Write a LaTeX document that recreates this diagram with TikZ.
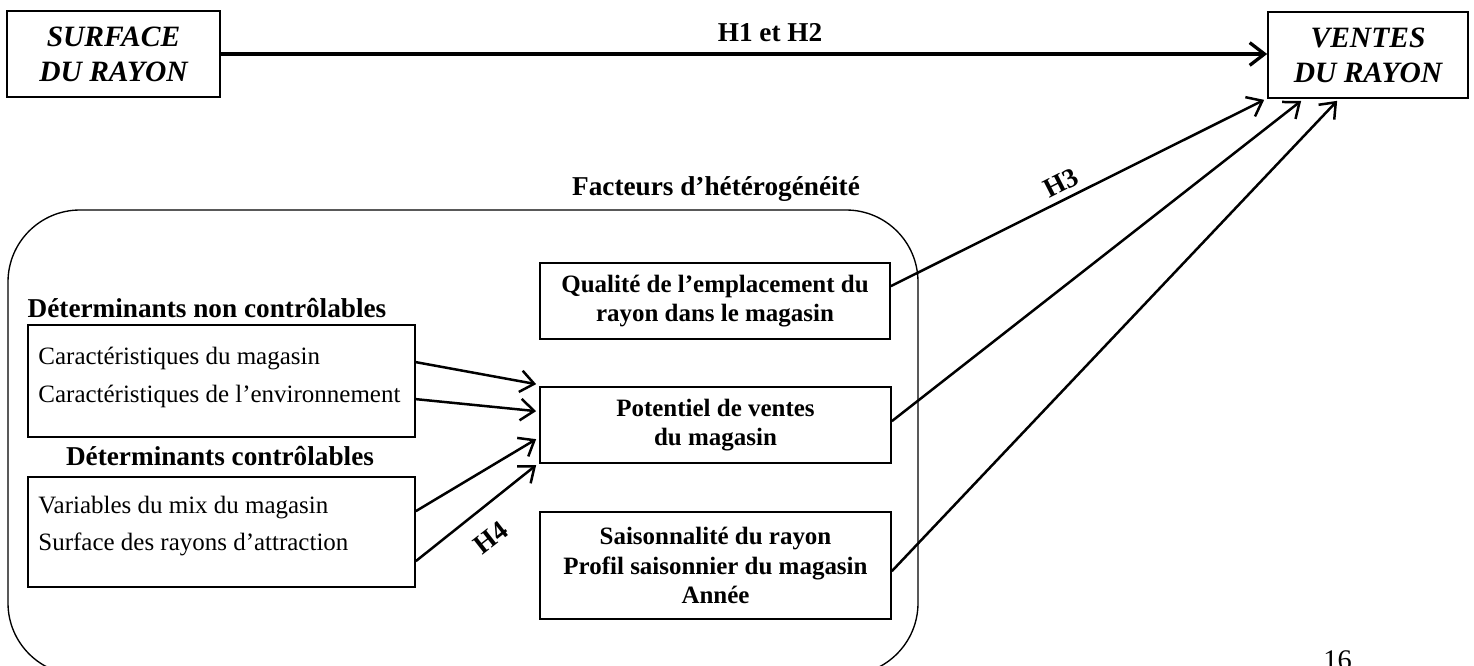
\documentclass[tikz,border=0pt]{standalone}
\usepackage{fontspec}
\setmainfont{Liberation Serif}
\usetikzlibrary{arrows.meta,calc}
\begin{document}
\begin{tikzpicture}[x=0.4405pt,y=-0.4405pt,
  box/.style={draw,line width=0.75pt,inner sep=0pt,align=center},
  bf/.style={font=\fontsize{12pt}{13.2pt}\selectfont\bfseries},
  bfbox/.style={font=\fontsize{11pt}{13pt}\selectfont\bfseries},
  rm/.style={font=\fontsize{11pt}{13pt}\selectfont},
  lbl/.style={inner sep=0pt},
  link/.style={line width=1.1pt,-{Straight Barb[length=6pt,width=9.5pt]}},
  mainlink/.style={line width=1.45pt,-{Straight Barb[length=6.5pt,width=10pt]}},
]
\useasboundingbox (0,0) rectangle (1474,666);
\clip (0,0) rectangle (1474,666);

% group of heterogeneity factors
\node[draw,line width=0.6pt,rounded corners=31.7pt,inner sep=0pt,
      minimum width=400.86pt,minimum height=204.83pt] (grp) at (463,442.5) {};

% top-level boxes
\node[box,minimum width=93.83pt,minimum height=37.88pt,
      font=\fontsize{13pt}{15.4pt}\selectfont\bfseries\itshape] (surf) at (113.5,54) {SURFACE\\DU RAYON};
\node[box,minimum width=88.1pt,minimum height=37.88pt,
      font=\fontsize{13pt}{15.4pt}\selectfont\bfseries\itshape] (vent) at (1368,55) {VENTES\\DU RAYON};

% factor boxes
\node[box,bfbox,minimum width=154.18pt,minimum height=33.48pt] (qual) at (715,301)
  {Qualité de l’emplacement du\\rayon dans le magasin};
\node[box,bfbox,minimum width=154.62pt,minimum height=33.48pt] (pot) at (715.5,425)
  {Potentiel de ventes\\du magasin};
\node[box,bfbox,minimum width=154.62pt,minimum height=47.13pt] (sais) at (715.5,565.5)
  {Saisonnalité du rayon\\Profil saisonnier du magasin\\Année};

% determinant boxes
\node[box,minimum width=170.47pt,minimum height=49.34pt] (b1) at (221.5,381) {};
\node[box,minimum width=170.47pt,minimum height=48.46pt] (b2) at (221.5,532) {};

\node[rm,lbl,anchor=base west] (t1) at (38,364) {Caractéristiques du magasin};
\node[rm,lbl,anchor=base west] (t2) at (38,402) {Caractéristiques de l’environnement};
\node[rm,lbl,anchor=base west] (t3) at (38,513) {Variables du mix du magasin};
\node[rm,lbl,anchor=base west] (t4) at (38,550) {Surface des rayons d’attraction};

% headings
\node[bf,lbl,anchor=base] (h12) at (770,42) {H1 et H2};
\node[bf,lbl,anchor=base] (fac) at (716,195) {Facteurs d’hétérogénéité};
\node[bf,lbl,anchor=base] (dn) at (207,317) {Déterminants non contrôlables};
\node[bf,lbl,anchor=base] (dc) at (220,465) {Déterminants contrôlables};
\node[bf,lbl,rotate=38] (h4) at (491,538) {H4};
\node[bf,lbl,rotate=27] (h3) at (1061,183) {H3};
\node[lbl,font=\fontsize{12.5pt}{14pt}\selectfont,anchor=base west] (pg) at (1323,669) {16};

% links
\draw[mainlink] (surf.east) -- (surf.east -| vent.west);

\draw[link] ($(b1.north east)+(0,38)$) -- ($(pot.north west)+(-3,-2)$);
\draw[link] ($(b1.north east)+(0,75)$) -- ($(pot.north west)+(-3,25)$);
\draw[link] ($(b2.north east)+(0,35)$) -- ($(pot.north west)+(-3,53)$);
\draw[link] ($(b2.north east)+(0,85)$) -- ($(pot.north west)+(-3,79)$);

\draw[link] ($(qual.north east)+(0,24)$) -- ($(vent.south west)+(-3,1)$);
\draw[link] ($(pot.north east)+(0,35)$) -- ($(vent.south west)+(34,2)$);
\draw[link] ($(sais.north east)+(0,60)$) -- ($(vent.south west)+(70,2)$);
\end{tikzpicture}
\end{document}
